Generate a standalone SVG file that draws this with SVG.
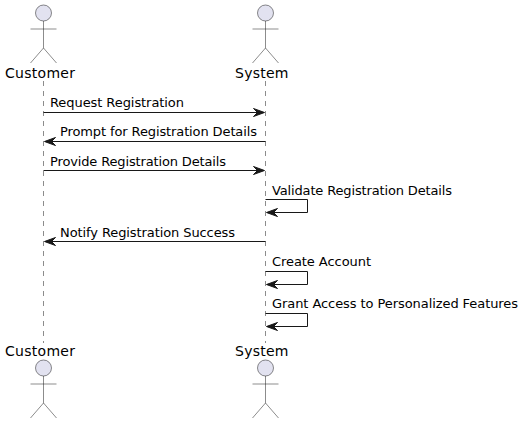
<svg xmlns="http://www.w3.org/2000/svg" width="525" height="424" viewBox="0 0 525 424">
<style>
text{font-family:"DejaVu Sans",sans-serif;fill:#000}
.n{font-size:14px}
.m{font-size:13px}
.life{stroke:#181818;stroke-width:.5;stroke-dasharray:5 5;fill:none}
.head{fill:#E2E2F0;stroke:#181818;stroke-width:.5}
.limb{fill:none;stroke:#181818;stroke-width:.5}
.msg{fill:none;stroke:#181818;stroke-width:1}
.tip{fill:#181818;stroke:#181818;stroke-width:1}
</style>
<defs>
<g id="actor">
<circle class="head" cx="0" cy="8" r="8"/>
<path class="limb" d="M0 16V43M-13 24H13M0 43L-13 58M0 43L13 58"/>
</g>
<path id="ar" class="tip" d="M0 0L-11 -4L-7 0L-11 4Z"/>
<path id="al" class="tip" d="M0 0L11 -4L7 0L11 4Z"/>
</defs>
<g id="lifelines">
<line class="life" x1="43.5" y1="81" x2="43.5" y2="343"/>
<line class="life" x1="265.5" y1="81" x2="265.5" y2="343"/>
</g>
<g id="customer-top"><use href="#actor" x="43.5" y="5"/><text class="n" x="5" y="78" textLength="70">Customer</text></g>
<g id="system-top"><use href="#actor" x="265.5" y="5"/><text class="n" x="235" y="78" textLength="53.5">System</text></g>
<g id="customer-bottom"><text class="n" x="5" y="356" textLength="70">Customer</text><use href="#actor" x="43.5" y="360"/></g>
<g id="system-bottom"><text class="n" x="235" y="356" textLength="53.5">System</text><use href="#actor" x="265.5" y="360"/></g>
<g id="connectors">
<path class="msg" d="M43.5 112.5H264"/><use href="#ar" x="264.5" y="112.5"/>
<path class="msg" d="M45 141.5H265.5"/><use href="#al" x="44.5" y="141.5"/>
<path class="msg" d="M43.5 170.5H264"/><use href="#ar" x="264.5" y="170.5"/>
<path class="msg" d="M265.5 199.5H307.5V212.5H267"/><use href="#al" x="266.5" y="212.5"/>
<path class="msg" d="M45 241.5H265.5"/><use href="#al" x="44.5" y="241.5"/>
<path class="msg" d="M265.5 271.5H307.5V284.5H267"/><use href="#al" x="266.5" y="284.5"/>
<path class="msg" d="M265.5 313.5H307.5V326.5H267"/><use href="#al" x="266.5" y="326.5"/>
</g>
<g id="labels">
<text class="m" x="50" y="107" textLength="134">Request Registration</text>
<text class="m" x="60" y="136" textLength="197">Prompt for Registration Details</text>
<text class="m" x="50" y="166" textLength="176">Provide Registration Details</text>
<text class="m" x="272" y="195" textLength="180">Validate Registration Details</text>
<text class="m" x="60" y="237" textLength="175">Notify Registration Success</text>
<text class="m" x="272" y="266" textLength="99">Create Account</text>
<text class="m" x="272" y="308" textLength="246">Grant Access to Personalized Features</text>
</g>
</svg>
